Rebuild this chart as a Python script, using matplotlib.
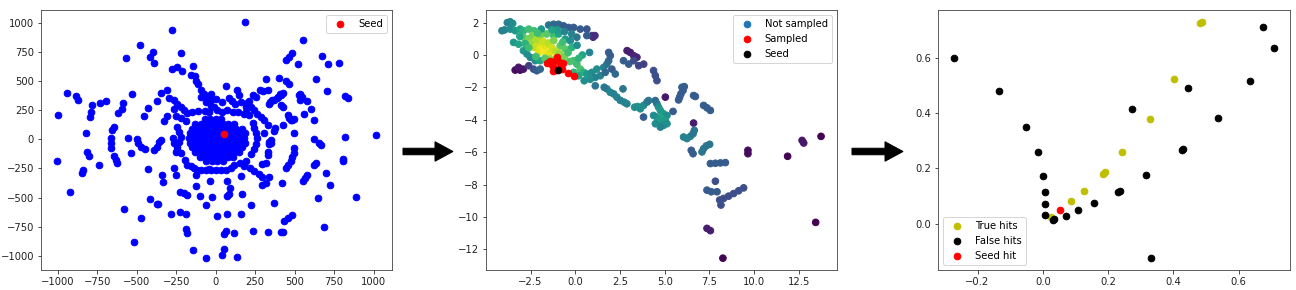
import matplotlib
matplotlib.use("Agg")
import matplotlib.pyplot as plt
from matplotlib.patches import FancyArrow

# ---------------- Panel 1 data (x, y) ----------------
blob_points = [
    (-70, 170), (-35, 170), (0, 170), (35, 170),
    (-130, 130), (-95, 130), (-60, 130), (-25, 130), (10, 130), (45, 130), (80, 130), (115, 130),
    (-150, 90), (-115, 90), (-80, 90), (-45, 90), (-10, 90), (25, 90), (60, 90), (95, 90), (130, 90), (165, 90),
    (-165, 50), (-130, 50), (-95, 50), (-60, 50), (-25, 50), (10, 50), (80, 50), (115, 50), (150, 50), (185, 50),
    (-170, 10), (-135, 10), (-100, 10), (-65, 10), (-30, 10), (5, 10), (40, 10), (75, 10), (110, 10), (145, 10), (180, 10),
    (-165, -30), (-130, -30), (-95, -30), (-60, -30), (-25, -30), (10, -30), (45, -30), (80, -30), (115, -30), (150, -30), (185, -30),
    (-150, -70), (-115, -70), (-80, -70), (-45, -70), (-10, -70), (25, -70), (60, -70), (95, -70), (130, -70), (165, -70),
    (-130, -110), (-95, -110), (-60, -110), (-25, -110), (10, -110), (45, -110), (80, -110), (115, -110), (150, -110),
    (-100, -150), (-65, -150), (-30, -150), (5, -150), (40, -150), (75, -150), (110, -150),
    (-60, -185), (-25, -185), (10, -185), (45, -185),
]
ring_points = [
    (-150, 236), (-110, 240), (-70, 245), (-40, 230), (40, 230), (110, 236), (140, 230), (180, 220),
    (233, 136), (243, 94), (254, 51), (260, 9), (256, -40), (243, -85), (226, -125), (211, 207), (190, 236),
    (-243, 108), (-233, 65), (-222, 23), (-233, -20), (-243, -63), (-254, -105), (-222, -119),
    (-63, -261), (-32, -261), (0, -261), (32, -261), (63, -261), (95, -247), (116, -224), (154, -205),
    (176, -233), (190, -185), (218, -247), (243, -270), (275, -298), (296, -327),
    (-197, -176), (-180, -219), (-159, -233), (-137, -247), (-116, -261), (-95, -261),
]
outer_points = [
    (-941, 398), (-882, 369), (-873, 341), (-1000, 205), (-1005, -182), (-920, -455), (-819, 57),
    (-814, -111), (-804, -139), (-840, -261), (-846, -290), (-789, 236), (-797, 193), (-783, 298),
    (-734, 315), (-692, 330), (-740, -224), (-660, 9), (-662, -34), (-660, -71), (-656, 80), (-645, 102),
    (-641, -139), (-630, -176), (-624, -205), (-620, 222), (-592, 256), (-586, 315), (-571, 699),
    (-582, -597), (-556, 14), (-535, -119), (-529, 392), (-518, -881), (-497, 3), (-493, -34),
    (-476, -63), (-450, -85), (-480, 812), (-476, -673), (-455, 199), (-429, -259), (-427, 270),
    (-417, -511), (-419, 710), (-398, 747), (-391, 656), (-391, -91), (-374, -63), (-359, -26),
    (-349, -6), (-374, 330), (-374, -551), (-366, -554), (-349, 398), (-338, -304), (-334, -366),
    (-328, 159), (-307, 199), (-307, 426), (-296, 358), (-285, -639), (-279, 938), (-279, 605),
    (-269, 9), (-264, -34), (-243, -91), (-264, -247), (-254, -310), (-264, 335), (-264, 256),
    (-254, 199), (-247, 619), (-243, 307), (-226, -452), (-201, -463), (-180, -474), (-226, -625),
    (-190, -639), (-222, 179), (-222, 278), (-218, 739), (-211, 585), (-201, 250), (-186, -767),
    (-184, -807), (-186, 159), (-180, 227), (-159, 548), (-144, -952), (-144, 628), (-133, 540),
    (-125, 500), (-127, -304), (-127, -403), (-110, 472), (-99, -489), (-95, 426), (-95, 364),
    (-74, 392), (-63, 321), (-63, -1020), (-59, -565), (-53, 358), (-40, -259), (-34, -361),
    (-32, 392), (-32, 284), (-27, 341), (-21, -494), (-11, 278), (0, 349), (6, -659), (11, 250),
    (42, -991), (53, -943), (53, -815), (68, -787), (74, -639), (74, -489), (85, -469), (89, -418),
    (70, -361), (66, 457), (85, 358), (42, 321), (74, 250), (116, -807), (133, -1009), (159, -318),
    (163, -639), (169, -469), (186, 1008), (222, -565), (239, -787), (296, -389), (317, -375),
    (292, -213), (328, -795), (338, -327), (338, -20), (349, -34), (317, 520), (370, -545),
    (402, 526), (412, -793), (423, -793), (417, -375), (434, -702), (459, -673), (486, -653),
    (444, 500), (465, 472), (448, 682), (465, 710), (480, 739), (476, -190), (459, -219),
    (444, -247), (497, -77), (493, -119), (480, -148), (493, 51), (476, 165), (497, 170),
    (518, 642), (533, 392), (535, 341), (550, 852), (550, -361), (565, -332), (581, -310),
    (556, 213), (577, 330), (603, 264), (624, 165), (624, -224), (634, -205), (645, -503),
    (634, 520), (656, -34), (666, -48), (624, 0), (673, 719), (687, -753), (698, -290),
    (702, 415), (709, 642), (725, -389), (778, 656), (804, -168), (804, -190), (818, 23),
    (820, 372), (840, 355), (888, -494), (1015, 37),
    (279, 426), (300, 415), (332, 426), (254, 364), (237, 384), (211, 330), (190, 278),
    (345, 321), (370, 341), (392, 364), (412, 384), (427, 401), (406, 386), (391, 358),
    (359, 335), (338, 307), (412, 293), (423, 273), (366, 74), (374, 94), (349, -6),
    (338, -40), (328, -105), (328, -134), (307, 51), (317, -205), (429, 122), (455, 207),
    (465, 179), (486, 165), (546, 364), (529, 384),
    (159, 321), (201, 312), (222, 273), (243, 250), (264, 216), (285, 193), (307, 165), (328, 122),
    (137, 420), (150, 380), (105, 330), (120, 300),
]
seed_point = (50, 48)

# ---------------- Panel 2 data (x, y, colour value) ----------------
not_sampled = [
    (-4.1, 1.5, 0.45), (-3.95, 1.55, 0.45), (-3.8, 2.0, 0.45), (-3.64, 2.05, 0.45), (-3.5, 1.95, 0.5),
    (-3.64, 1.6, 0.5), (-3.36, 1.5, 0.55), (-3.08, 1.6, 0.6), (-2.9, 1.5, 0.65), (-2.6, 1.6, 0.7),
    (-2.3, 1.5, 0.7), (-3.45, 0.78, 0.55), (-3.17, 0.67, 0.6), (-2.9, 1.1, 0.75), (-2.6, 1.0, 0.8),
    (-2.43, 0.78, 0.85), (-2.3, 0.47, 0.9), (-2.1, 0.67, 0.92), (-1.96, 0.37, 0.97), (-2.05, 0.16, 0.95),
    (-1.77, 0.27, 1.0), (-1.6, 0.06, 0.98), (-1.4, 0.16, 0.95), (-1.68, 0.57, 0.95), (-1.96, 1.2, 0.8),
    (-1.6, 1.3, 0.75), (-1.21, 1.2, 0.7), (-0.93, 1.3, 0.6), (-1.49, 1.85, 0.4), (-1.21, 1.9, 0.35),
    (-0.93, 1.9, 0.35), (-0.65, 1.8, 0.3), (-0.37, 1.7, 0.3), (-0.09, 1.7, 0.3), (0.28, 1.6, 0.3),
    (0.65, 1.6, 0.28), (0.93, 1.2, 0.2), (1.0, 1.1, 0.15), (1.1, 1.2, 0.15), (0.65, 1.2, 0.3),
    (-0.56, 0.98, 0.55), (-0.28, 0.88, 0.5), (0.09, 1.1, 0.4), (-0.84, 0.57, 0.75), (-0.56, 0.37, 0.75),
    (-0.19, 0.47, 0.65), (0.8, 0.16, 0.45), (-0.09, -0.35, 0.7), (0.09, -0.56, 0.7), (0.28, -0.87, 0.72),
    (0.47, -1.07, 0.65), (0.19, -1.28, 0.6), (-0.09, -1.07, 0.65), (0.65, -1.17, 0.55), (0.93, -1.07, 0.5),
    (1.12, -1.38, 0.45), (1.4, -1.28, 0.45), (1.21, -0.87, 0.5), (1.59, -0.76, 0.45), (1.77, -0.56, 0.4),
    (1.87, -0.35, 0.35), (0.5, -1.59, 0.5), (0.84, -1.5, 0.5), (1.12, -1.9, 0.4), (1.87, 0.16, 0.3),
    (1.96, -0.04, 0.3), (-3.36, -0.93, 0.05), (-3.08, -0.93, 0.05), (-2.9, -0.87, 0.08), (-3.17, -0.76, 0.08),
    (-2.6, -0.66, 0.2), (-2.33, -0.87, 0.25), (-2.15, -0.97, 0.3), (-1.96, -0.87, 0.35), (-2.52, -0.14, 0.45),
    (-2.24, -0.35, 0.5), (-1.96, -0.35, 0.6), (-1.4, -0.25, 0.85), (-1.03, -0.14, 0.85), (-0.84, -0.35, 0.8),
    (-2.9, 0.27, 0.55), (-2.7, 0.06, 0.5), (-2.4, 1.2, 0.8), (-2.2, 0.95, 0.88), (-1.8, 0.85, 0.92),
    (-1.5, 0.75, 0.9), (-1.3, 0.45, 0.93), (-1.1, 0.25, 0.9), (-1.2, 0.9, 0.8), (-0.9, 0.1, 0.85),
    (-0.6, -0.1, 0.8), (-0.4, 0.15, 0.7), (-0.3, -0.4, 0.72), (-2.8, 0.7, 0.65), (-3.1, 1.15, 0.6),
    (-2.2, -0.1, 0.7), (-1.7, -0.2, 0.75), (-2.6, 0.45, 0.7), (-1.0, 1.55, 0.55), (-1.3, 1.55, 0.6),
    (-0.6, 1.45, 0.45), (-0.2, 1.3, 0.45), (0.1, 0.6, 0.5), (0.4, 0.0, 0.6), (0.2, -0.2, 0.65),
    (-0.7, 0.8, 0.7), (-1.9, 1.6, 0.55), (-2.1, 1.35, 0.7),
    (2.9, 0.27, 0.1), (3.08, 0.16, 0.1), (3.27, -0.04, 0.12), (3.45, -0.14, 0.12), (2.7, -0.35, 0.3),
    (2.99, -0.56, 0.3), (3.27, -0.35, 0.25), (3.55, -0.66, 0.22), (3.83, -0.56, 0.2), (1.68, -1.07, 0.35),
    (2.05, -0.87, 0.3), (2.24, -1.17, 0.35), (4.38, -0.96, 0.25), (4.48, -1.27, 0.25), (4.57, -1.58, 0.25),
    (1.77, -2.09, 0.45), (1.96, -2.3, 0.45), (2.15, -2.4, 0.45), (2.33, -2.6, 0.45), (2.52, -2.8, 0.45),
    (1.62, -1.99, 0.4), (2.67, -2.09, 0.4), (2.74, -2.91, 0.45), (2.89, -3.01, 0.45),
    (3.32, -3.22, 0.5), (3.49, -3.18, 0.5), (3.64, -3.32, 0.5), (3.82, -3.11, 0.5), (4.01, -2.91, 0.45),
    (4.1, -2.81, 0.4), (3.82, -3.83, 0.3),
    (4.48, -2.81, 0.35), (4.57, -3.01, 0.4), (4.66, -3.22, 0.5), (4.76, -3.42, 0.55), (4.94, -3.63, 0.55),
    (5.13, -3.73, 0.5), (4.85, -3.93, 0.6), (5.04, -4.04, 0.55), (4.57, -3.83, 0.55), (4.38, -3.73, 0.5),
    (4.66, -4.14, 0.55), (4.94, -4.34, 0.5), (5.13, -4.24, 0.5), (4.76, -4.45, 0.45), (4.48, -4.24, 0.5),
    (5.04, -2.6, 0.08), (5.47, -3.48, 0.3), (5.97, -1.99, 0.3), (6.03, -2.19, 0.3), (5.91, -2.4, 0.3),
    (5.84, -2.6, 0.3), (5.78, -2.77, 0.3), (6.1, -1.95, 0.3), (6.62, -2.5, 0.3), (6.72, -2.56, 0.3),
    (6.62, -4.2, 0.1), (6.06, -5.06, 0.45), (6.25, -5.16, 0.45), (6.44, -5.02, 0.45), (6.59, -4.86, 0.4),
    (6.66, -4.65, 0.4), (6.49, -5.88, 0.3), (6.59, -6.09, 0.3), (7.18, -3.11, 0.3), (7.37, -3.26, 0.3),
    (7.56, -3.42, 0.3), (7.09, -5.98, 0.4), (7.18, -5.78, 0.4), (7.33, -5.61, 0.4), (7.52, -5.51, 0.4),
    (7.56, -6.7, 0.3), (7.84, -6.68, 0.3), (8.12, -6.66, 0.3), (8.4, -6.64, 0.3), (7.37, -8.34, 0.3),
    (7.61, -8.44, 0.3), (7.93, -8.44, 0.3), (7.84, -7.79, 0.25), (8.08, -8.95, 0.25), (8.15, -9.26, 0.25),
    (8.3, -8.85, 0.25), (8.58, -8.71, 0.25), (8.86, -8.55, 0.25), (9.14, -8.38, 0.25), (9.42, -8.2, 0.25),
    (7.37, -10.7, 0.1), (7.56, -10.84, 0.1), (8.26, -12.54, 0.02), (9.66, -5.88, 0.05), (9.66, -6.09, 0.05),
    (11.88, -6.25, 0.02), (12.69, -5.27, 0.08), (12.78, -5.43, 0.08), (13.75, -5.02, 0.02), (13.45, -10.33, 0.02),
]
sampled = [
    (-1.59, -0.5), (-1.4, -0.35), (-1.3, -0.6), (-1.2, -0.8), (-1.1, -0.3), (-1.0, -0.1), (-0.9, -0.4),
    (-0.8, -0.65), (-0.7, -0.5), (-1.05, -0.95), (-1.25, -1.0), (-0.75, -0.85), (-0.43, -1.1), (-0.06, -1.28),
]
seed2 = (-0.95, -0.92)

# ---------------- Panel 3 data ----------------
true_hits_x = [0.026, 0.087, 0.127, 0.185, 0.19, 0.244, 0.327, 0.401, 0.48, 0.486]
true_hits_y = [0.023, 0.08, 0.118, 0.18, 0.186, 0.261, 0.379, 0.525, 0.728, 0.733]
false_hits_x = [-0.272, -0.133, -0.05, -0.015, 0.002, 0.008, 0.008, 0.007, 0.031, 0.033, 0.07, 0.108,
                0.158, 0.23, 0.237, 0.274, 0.316, 0.33, 0.426, 0.43, 0.444, 0.536, 0.636, 0.673, 0.708]
false_hits_y = [0.6, 0.483, 0.352, 0.26, 0.174, 0.115, 0.071, 0.032, 0.012, 0.015, 0.029, 0.048,
                0.074, 0.115, 0.118, 0.417, 0.175, -0.126, 0.266, 0.269, 0.491, 0.384, 0.518, 0.715, 0.637]
seed_hit = (0.054, 0.048)

# ---------------- Figure ----------------
W, H = 1296, 290
fig = plt.figure(figsize=(W / 72, H / 72), dpi=72)
S = 44

def axes_px(left, right, top, bottom):
    return fig.add_axes([left / W, (H - bottom) / H, (right - left) / W, (bottom - top) / H])

ax1 = axes_px(41, 392, 10, 270)
ax2 = axes_px(486, 837, 10, 270)
ax3 = axes_px(938, 1290, 10, 270)

for ax in (ax1, ax2, ax3):
    for sp in ax.spines.values():
        sp.set_color('#3a3a3a')
    ax.tick_params(colors='#222222')

# Panel 1
pts1 = blob_points + ring_points + outer_points
ax1.scatter([p[0] for p in pts1], [p[1] for p in pts1], c='b', s=S)
ax1.scatter([seed_point[0]], [seed_point[1]], c='r', s=S, label='Seed')
ax1.legend(loc='upper right')

# Panel 2
ax2.scatter([p[0] for p in not_sampled], [p[1] for p in not_sampled],
            c=[p[2] for p in not_sampled], cmap='viridis', s=S)
ax2.scatter([], [], c='#1f77b4', s=S, label='Not sampled')
ax2.scatter([p[0] for p in sampled], [p[1] for p in sampled], c='r', s=S, label='Sampled')
ax2.scatter([seed2[0]], [seed2[1]], c='k', s=S, label='Seed')
ax2.legend(loc='upper right')

# Panel 3
ax3.scatter(true_hits_x, true_hits_y, c='y', s=S, label='True hits')
ax3.scatter(false_hits_x, false_hits_y, c='k', s=S, label='False hits')
ax3.scatter([seed_hit[0]], [seed_hit[1]], c='r', s=S, label='Seed hit')
ax3.legend(loc='lower left')

# Arrows between panels
def arrow(x0, x1, yc):
    yf = (H - yc) / H
    fig.add_artist(FancyArrow(x0 / W, yf, (x1 - x0) / W, 0,
                              width=6.5 / H, head_width=19.5 / H, head_length=18 / W,
                              length_includes_head=True, color='k', transform=fig.transFigure))

arrow(403, 453, 151.5)
arrow(852, 903, 151.5)

fig.savefig('out.png', dpi=72)
